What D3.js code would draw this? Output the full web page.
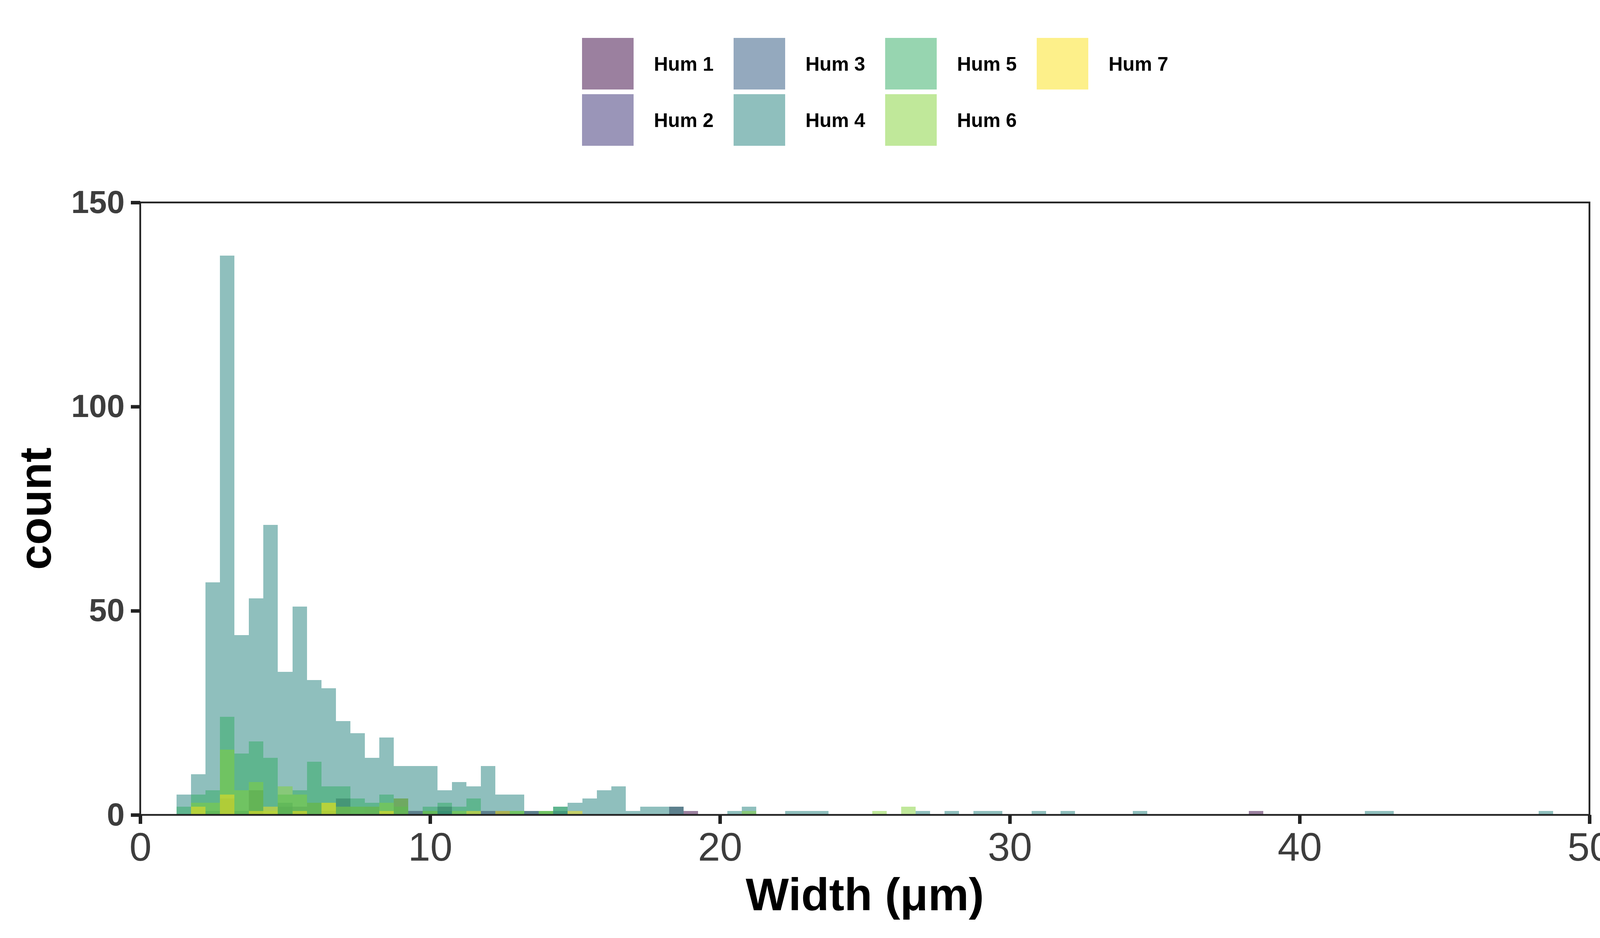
<!DOCTYPE html>
<html>
<head>
<meta charset="utf-8">
<script src="https://cdn.jsdelivr.net/npm/d3@7"></script>
<style>
  body { margin: 0; background: #fff; }
  text { font-family: "Liberation Sans", Arial, Helvetica, sans-serif; }
</style>
</head>
<body>
<div id="chart"></div>
<script>
// histogram counts per sample, [bin centre (µm), count], bin width 0.5
const seriesNames = ["Hum 1", "Hum 2", "Hum 3", "Hum 4", "Hum 5", "Hum 6", "Hum 7"]
const seriesColors = ["#37013f", "#352b71", "#29537d", "#1f7f7b", "#2fab61", "#81d135", "#fbe115"]

const hum1 = [[4.0, 6], [7.0, 4], [9.0, 4], [9.5, 1], [10.5, 2], [12.0, 1], [12.5, 1], [13.5, 1],
    [18.5, 2], [19.0, 1], [38.5, 1]]
const hum2 = [[3.0, 4], [5.0, 2], [5.5, 2], [6.0, 3], [8.0, 2], [14.5, 1]]
const hum3 = [[2.5, 1], [3.5, 1], [5.0, 3], [6.5, 1], [7.5, 2], [10.0, 1], [10.5, 1]]
const hum4 = [[1.5, 5], [2.0, 10], [2.5, 57], [3.0, 137], [3.5, 44], [4.0, 53], [4.5, 71], [5.0, 35],
    [5.5, 51], [6.0, 33], [6.5, 31], [7.0, 23], [7.5, 20], [8.0, 14], [8.5, 19], [9.0, 12], [9.5, 12],
    [10.0, 12], [10.5, 6], [11.0, 8], [11.5, 7], [12.0, 12], [12.5, 5], [13.0, 5], [13.5, 1], [14.0, 1],
    [14.5, 2], [15.0, 3], [15.5, 4], [16.0, 6], [16.5, 7], [17.0, 1], [17.5, 2], [18.0, 2], [18.5, 2],
    [20.5, 1], [21.0, 2], [22.5, 1], [23.0, 1], [23.5, 1], [27.0, 1], [28.0, 1], [29.0, 1], [29.5, 1],
    [31.0, 1], [32.0, 1], [34.5, 1], [42.5, 1], [43.0, 1], [48.5, 1]]
const hum5 = [[1.5, 2], [2.0, 5], [2.5, 6], [3.0, 24], [3.5, 15], [4.0, 18], [4.5, 14], [5.0, 5],
    [5.5, 6], [6.0, 13], [6.5, 7], [7.0, 7], [7.5, 4], [8.0, 3], [8.5, 5], [9.0, 2], [10.0, 2],
    [10.5, 3], [11.0, 2], [11.5, 4], [13.0, 1], [14.0, 1], [14.5, 2]]
const hum6 = [[2.0, 3], [2.5, 3], [3.0, 16], [3.5, 6], [4.0, 8], [4.5, 1], [5.0, 7], [5.5, 5],
    [6.0, 3], [6.5, 3], [7.0, 2], [7.5, 2], [8.0, 2], [8.5, 3], [9.0, 4], [10.0, 1], [11.0, 1],
    [13.0, 1], [14.0, 1], [21.0, 1], [25.5, 1], [26.5, 2]]
const hum7 = [[2.0, 2], [3.0, 5], [4.0, 1], [4.5, 2], [5.5, 1], [6.5, 3], [8.5, 1], [11.5, 1],
    [12.5, 1], [15.0, 1]]

const xTicks = [0, 10, 20, 30, 40, 50]
const yTicks = [0, 50, 100, 150]
const binWidth = 0.5

const W = 4116, H = 2400
const panel = { left: 359, right: 4069, top: 518, bottom: 2085 }

const svg = d3.select("#chart").append("svg")
    .attr("width", W)
    .attr("height", H)

svg.append("rect").attr("width", W).attr("height", H).attr("fill", "#fff")

const x = d3.scaleLinear().domain([0, 50]).range([panel.left, panel.right])
const y = d3.scaleLinear().domain([0, 150]).range([panel.bottom, panel.top])

const allSeries = [hum1, hum2, hum3, hum4, hum5, hum6, hum7]

// bars, drawn Hum 1 first so Hum 7 sits on top
svg.append("g")
    .attr("shape-rendering", "crispEdges")
    .selectAll("g")
    .data(allSeries)
    .enter().append("g")
    .attr("fill", (d, i) => seriesColors[i])
    .attr("fill-opacity", 0.5)
    .selectAll("rect")
    .data(d => d)
    .enter().append("rect")
    .attr("x", d => x(d[0] - binWidth / 2))
    .attr("width", d => x(d[0] + binWidth / 2) - x(d[0] - binWidth / 2))
    .attr("y", d => y(d[1]))
    .attr("height", d => y(0) - y(d[1]))

// axes
const xAxis = svg.append("g")
    .attr("transform", `translate(0,${panel.bottom})`)
    .call(d3.axisBottom(x).tickValues(xTicks).tickSize(23).tickPadding(22))
const yAxis = svg.append("g")
    .attr("transform", `translate(${panel.left},0)`)
    .call(d3.axisLeft(y).tickValues(yTicks).tickSize(24).tickPadding(16))

xAxis.select(".domain").remove()
yAxis.select(".domain").remove()
svg.selectAll(".tick line").attr("stroke", "#222").attr("stroke-width", 9)
xAxis.selectAll("text")
    .attr("fill", "#3d3d3d")
    .style("font-size", "102px")
yAxis.selectAll("text")
    .attr("fill", "#3d3d3d")
    .style("font-size", "82px")
    .style("font-weight", "bold")

// panel border
svg.append("rect")
    .attr("x", panel.left)
    .attr("y", panel.top)
    .attr("width", panel.right - panel.left)
    .attr("height", panel.bottom - panel.top)
    .attr("fill", "none")
    .attr("stroke", "#222")
    .attr("stroke-width", 4.5)

// axis titles
svg.append("text")
    .attr("transform", `translate(130,${(panel.top + panel.bottom) / 2}) rotate(-90)`)
    .attr("text-anchor", "middle")
    .style("font-size", "115px")
    .style("font-weight", "bold")
    .text("count")

svg.append("text")
    .attr("x", (panel.left + panel.right) / 2)
    .attr("y", 2329)
    .attr("text-anchor", "middle")
    .style("font-size", "117px")
    .style("font-weight", "bold")
    .text("Width (μm)")

// legend: 2 rows, filled by column
const keySize = 132
const legend = svg.append("g")
    .selectAll("g")
    .data(seriesNames)
    .enter().append("g")
    .attr("transform", (d, i) => `translate(${1490 + 388 * Math.floor(i / 2)},${97 + 144 * (i % 2)})`)

legend.append("rect")
    .attr("width", keySize)
    .attr("height", keySize)
    .attr("fill", (d, i) => seriesColors[i])
    .attr("fill-opacity", 0.5)

legend.append("text")
    .attr("x", 184)
    .attr("y", keySize / 2 + 18)
    .style("font-size", "50px")
    .style("font-weight", "bold")
    .text(d => d)
</script>
</body>
</html>
